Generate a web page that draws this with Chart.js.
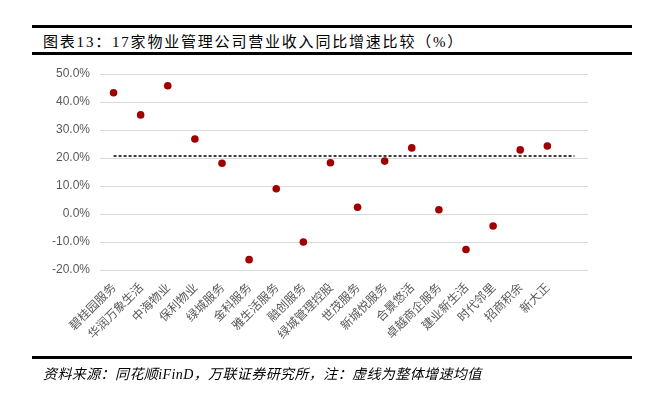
<!DOCTYPE html>
<html>
<head>
<meta charset="utf-8">
<script src="https://cdn.jsdelivr.net/npm/chart.js@4/dist/chart.umd.min.js"></script>
<style>
    html, body { margin: 0; padding: 0; background: #fff; }
    #wrap { position: relative; width: 659px; height: 405px; overflow: hidden; }
    #chart { position: absolute; left: 0; top: 0; }
    .rule { position: absolute; left: 32px; width: 600px; height: 2.5px; background: #000; }
    #title { position: absolute; left: 43px; top: 30px; font: 15px "Liberation Serif", "Noto Sans CJK SC"; letter-spacing: 1.8px; color: #000; white-space: nowrap; }
    #source { position: absolute; left: 43px; top: 363px; font: italic 14px "Liberation Serif", "Noto Sans CJK SC"; letter-spacing: 0.4px; color: #000; white-space: nowrap; }
</style>
</head>
<body>
<div id="wrap">
    <div class="rule" style="top:25px"></div>
    <div id="title">图表13：17家物业管理公司营业收入同比增速比较（%）</div>
    <div class="rule" style="top:52px"></div>
    <canvas id="chart" width="659" height="405"></canvas>
    <div class="rule" style="top:356px"></div>
    <div id="source">资料来源：同花顺iFinD，万联证券研究所，注：虚线为整体增速均值</div>
</div>
<script>
// 公司名称
var empresas = ['碧桂园服务', '华润万象生活', '中海物业', '保利物业', '绿城服务', '金科服务',
    '雅生活服务', '融创服务', '绿城管理控股', '世茂服务', '新城悦服务', '合景悠活',
    '卓越商企服务', '建业新生活', '时代邻里', '招商积余', '新大正'];

// 营业收入同比增速 (%)
var crecimiento = [43.3, 35.4, 45.8, 26.8, 18.1, -16.3, 9.0, -10.0, 18.3,
    2.4, 18.9, 23.6, 1.5, -12.7, -4.3, 22.9, 24.3];

// 整体增速均值 (%)
var promedio = 20.7;

// 纵轴刻度
var ejeY = { min: -20, max: 50, paso: 10 };

// una categoría vacía al final para que la línea punteada se extienda
var etiquetas = empresas.concat(['']);

var ctx = document.getElementById('chart').getContext('2d');
new Chart(ctx, {
    type: 'line',
    data: {
        labels: etiquetas,
        datasets: [{
            label: '同比增速',
            data: crecimiento,
            showLine: false,
            pointRadius: 3.8,
            pointBackgroundColor: '#A00000',
            pointBorderWidth: 0,
            borderColor: '#A00000'
        }, {
            label: '均值',
            data: [{ x: etiquetas[0], y: promedio }, { x: etiquetas[etiquetas.length - 1], y: promedio }],
            borderColor: '#000',
            borderWidth: 1.6,
            borderDash: [3, 2],
            pointRadius: 0,
            fill: false
        }]
    },
    options: {
        responsive: false,
        animation: false,
        layout: {
            padding: { left: 0, top: 74, right: 71, bottom: 0 }
        },
        scales: {
            x: {
                offset: true,
                grid: { display: false },
                border: { display: false },
                ticks: {
                    autoSkip: false,
                    minRotation: 45,
                    maxRotation: 45,
                    padding: 2,
                    color: '#595959',
                    font: { family: '"Noto Sans CJK SC"', size: 12 }
                },
                afterFit: function (scale) { scale.height = 135; }
            },
            y: {
                min: ejeY.min,
                max: ejeY.max,
                grid: { color: '#d9d9d9', lineWidth: 1, drawTicks: false },
                border: { display: false },
                ticks: {
                    stepSize: ejeY.paso,
                    padding: 10,
                    color: '#595959',
                    font: { family: '"Liberation Sans", "Noto Sans CJK SC"', size: 12 },
                    callback: function (v) { return v.toFixed(1) + '%'; }
                },
                afterFit: function (scale) { scale.width = 100; }
            }
        },
        plugins: {
            legend: { display: false },
            tooltip: { enabled: false }
        }
    }
});
</script>
</body>
</html>
